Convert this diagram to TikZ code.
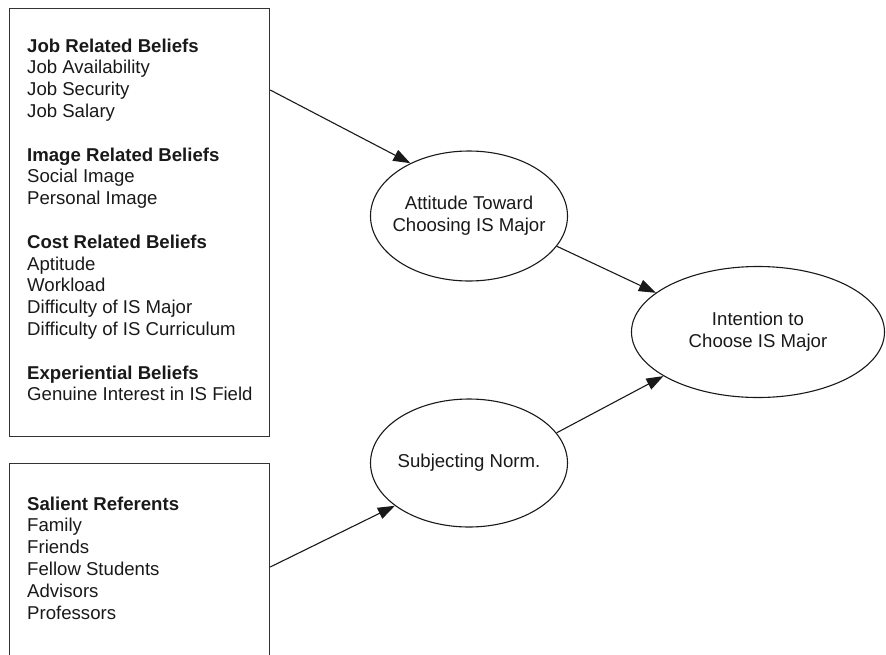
\documentclass[tikz,border=0pt]{standalone}
\usepackage{fontspec}
\setmainfont{Liberation Sans}
\usetikzlibrary{arrows.meta,shapes.geometric,calc}
\begin{document}
\begin{tikzpicture}[x=1pt,y=1pt,
  every node/.style={font=\fontsize{18.6}{21.8}\selectfont, text=black!90},
  boxnode/.style={draw=black!80, line width=1.2pt, rectangle, inner sep=0pt, anchor=north west},
  listtext/.style={anchor=north west, align=left, inner sep=0pt},
  construct/.style={draw=black!90, line width=1.1pt, ellipse, inner xsep=-9pt, inner ysep=0pt, align=center},
  link/.style={draw=black!90, line width=1.1pt, -{Triangle[length=17pt,width=12pt]}}
]
\useasboundingbox (0,0) rectangle (886,-654);
\clip (0,0) rectangle (886,-654);
\node[boxnode, minimum width=260pt, minimum height=428pt] (b1) at (9,-8) {};
\node[boxnode, minimum width=260pt, minimum height=220pt] (b2) at (9,-463) {};
\node[listtext] (t1) at (27,-38.5) {\textbf{Job Related Beliefs}\\Job Availability\\Job Security\\Job Salary\\[21.8pt]
\textbf{Image Related Beliefs}\\Social Image\\Personal Image\\[21.8pt]
\textbf{Cost Related Beliefs}\\Aptitude\\Workload\\Difficulty of IS Major\\Difficulty of IS Curriculum\\[21.8pt]
\textbf{Experiential Beliefs}\\Genuine Interest in IS Field};
\node[listtext] (t2) at (27,-496.5) {\textbf{Salient Referents}\\Family\\Friends\\Fellow Students\\Advisors\\Professors};
\node[construct, minimum width=197pt, minimum height=130pt] (att) at (469,-216) {Attitude Toward\\Choosing IS Major};
\node[construct, minimum width=253pt, minimum height=131pt] (int) at (758,-332) {Intention to\\Choose IS Major};
\node[construct, minimum width=197pt, minimum height=128pt] (sub) at (469,-463) {Subjecting Norm.};
\coordinate (s1) at ($(b1.north east)+(0,-82)$);
\coordinate (s4) at ($(b2.north east)+(0,-104)$);
\draw[link] (s1) -- (att.138);
\draw[link] (att.-19) -- (int.159);
\draw[link] (sub.19) -- (int.205);
\draw[link] (s4) -- (sub.210);
\end{tikzpicture}
\end{document}
